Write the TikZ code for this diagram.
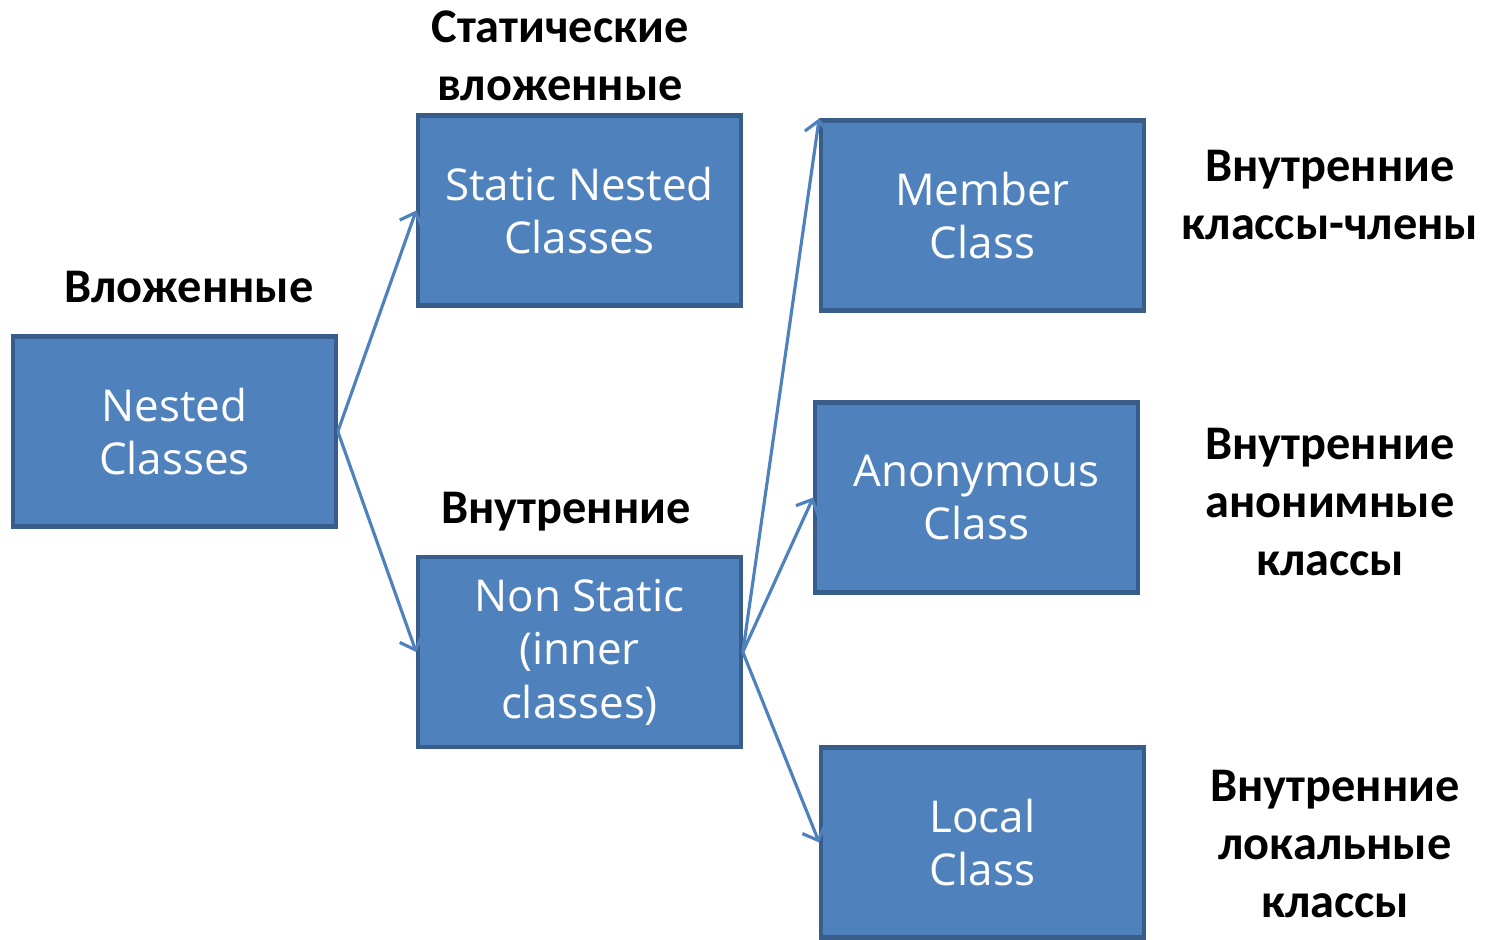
\documentclass[tikz,border=0pt]{standalone}
\usepackage{fontspec}
\setmainfont{Carlito}
\newfontfamily\boxfont{Open Sans}
\usetikzlibrary{arrows.meta}
\definecolor{boxfill}{HTML}{4F81BD}
\definecolor{boxline}{HTML}{385D8A}
\tikzset{
  cls/.style={draw=boxline,line width=2.4pt,fill=boxfill,text=white,
    minimum width=6.45cm,minimum height=3.8cm,align=center,
    font=\boxfont\fontsize{25}{30.5}\selectfont},
  lbl/.style={align=center,font=\bfseries\fontsize{27.5}{33}\selectfont},
  link/.style={draw=boxfill,line width=1.8pt,-{Straight Barb[length=7pt,width=14pt]}}
}
\begin{document}
\begin{tikzpicture}[x=0.02cm,y=-0.02cm]
  \useasboundingbox (0,0) rectangle (1495,940);
  % boxes
  \node[cls] (nested) at (174.5,431.5) {Nested\\Classes};
  \node[cls] (static) at (579.5,210.5) {Static Nested\\Classes};
  \node[cls] (inner)  at (579.5,652)   {Non Static\\(inner\\classes)};
  \node[cls] (member) at (982.5,215.5) {Member\\Class};
  \node[cls] (anon)   at (976.5,497.5) {Anonymous\\Class};
  \node[cls] (local)  at (982.5,842.5) {Local\\Class};
  % labels
  \node[lbl] (lnested) at (189,287)  {Вложенные};
  \node[lbl] (lstatic) at (560,56)   {Статические\\вложенные};
  \node[lbl] (linner)  at (566,512)  {Внутренние};
  \node[lbl] (lmember) at (1330,195) {Внутренние\\классы-члены};
  \node[lbl] (lanon)   at (1330,502) {Внутренние\\анонимные\\классы};
  \node[lbl] (llocal)  at (1335,844) {Внутренние\\локальные\\классы};
  % arrows
  \draw[link] (nested.east) -- (static.west);
  \draw[link] (nested.east) -- (inner.west);
  \draw[link] (inner.east) -- (member.north west);
  \draw[link] (inner.east) -- (anon.west);
  \draw[link] (inner.east) -- (local.west);
\end{tikzpicture}
\end{document}
